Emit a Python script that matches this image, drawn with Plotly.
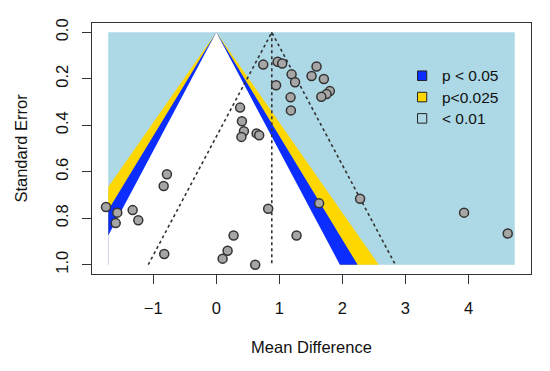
import plotly.graph_objects as go
from statistics import NormalDist

# ---- data ----
mean_diff = [0.744, 0.973, 1.045, 1.590, 1.194, 1.511, 1.249, 1.706, 0.948, 1.801,
             1.749, 1.666, 1.178, 1.183, 0.377, 0.406, 0.438, 0.398, 0.639, 0.680,
             -1.750, -1.571, -1.596, -1.327, -1.238, -0.783, -0.835, -0.826, 0.823, 1.631,
             0.274, 1.273, 0.179, 0.100, 0.617, 2.281, 3.930, 4.623]
std_err = [0.139, 0.127, 0.134, 0.147, 0.181, 0.188, 0.215, 0.201, 0.228, 0.253,
           0.266, 0.277, 0.280, 0.336, 0.324, 0.383, 0.426, 0.450, 0.435, 0.443,
           0.752, 0.776, 0.821, 0.765, 0.809, 0.611, 0.661, 0.954, 0.759, 0.736,
           0.874, 0.874, 0.940, 0.974, 1.000, 0.716, 0.776, 0.866]

p_levels = [0.05, 0.025, 0.01]
legend_labels = ["p < 0.05", "p<0.025", "< 0.01"]
band_colors = ["#0B2DFF", "#FFD700", "#ADD8E6"]
re_estimate = 0.88
shade_xlim = [-1.714, 4.734]
se_max = 1.0
x_ticks = [-1, 0, 1, 2, 3, 4]
y_ticks = [0.0, 0.2, 0.4, 0.6, 0.8, 1.0]
y_tick_text = ["0.0", "0.2", "0.4", "0.6", "0.8", "1.0"]

FONT = "Liberation Sans, Arial, sans-serif"
z_vals = [NormalDist().inv_cdf(1 - p / 2) for p in p_levels]


def funnel_polygon(z, xl, xr, smax):
    # triangle centred at 0 with half width z*se, clipped to [xl, xr]
    xs, ys = [0.0], [0.0]
    if z * smax > xr:
        xs += [xr, xr]; ys += [xr / z, smax]
    else:
        xs += [z * smax]; ys += [smax]
    if -z * smax < xl:
        xs += [xl, xl]; ys += [smax, -xl / z]
    else:
        xs += [-z * smax]; ys += [smax]
    xs.append(0.0); ys.append(0.0)
    return xs, ys


fig = go.Figure()
# outer region (p < 0.01)
fig.add_trace(go.Scatter(
    x=[shade_xlim[0], shade_xlim[1], shade_xlim[1], shade_xlim[0], shade_xlim[0]],
    y=[0, 0, se_max, se_max, 0], fill="toself", fillcolor=band_colors[2],
    line=dict(width=0), mode="lines", hoverinfo="skip", showlegend=False))
# bands, outermost first (white core extended a hair past se_max to hide edge seam)
for z, col, smax in [(z_vals[2], band_colors[1], se_max), (z_vals[1], band_colors[0], se_max),
                     (z_vals[0], "#FFFFFF", se_max * 1.004)]:
    xs, ys = funnel_polygon(z, shade_xlim[0], shade_xlim[1], smax)
    fig.add_trace(go.Scatter(x=xs, y=ys, fill="toself", fillcolor=col,
                             line=dict(width=0), mode="lines",
                             hoverinfo="skip", showlegend=False))

# random-effects pseudo-confidence funnel (dotted)
z95 = z_vals[0]
fig.add_trace(go.Scatter(
    x=[re_estimate - z95 * se_max, re_estimate, re_estimate + z95 * se_max],
    y=[se_max, 0, se_max], mode="lines",
    line=dict(color="#333333", width=1.6, dash="dot"), showlegend=False, hoverinfo="skip"))
fig.add_trace(go.Scatter(
    x=[re_estimate, re_estimate], y=[0, se_max], mode="lines",
    line=dict(color="#333333", width=1.6, dash="dot"), showlegend=False, hoverinfo="skip"))

# studies
fig.add_trace(go.Scatter(
    x=mean_diff, y=std_err, mode="markers",
    marker=dict(size=9, color="#A6A6A6", line=dict(color="#333333", width=1.5)),
    showlegend=False))

# legend (drawn manually)
leg_x, leg_y0, leg_dy = 0.752, 0.790, 0.085
hx, hy = 0.0105, 0.019
for i, (lab, col) in enumerate(zip(legend_labels, band_colors)):
    yy = leg_y0 - i * leg_dy
    fig.add_shape(type="rect", xref="paper", yref="paper",
                  x0=leg_x - hx, x1=leg_x + hx, y0=yy - hy, y1=yy + hy,
                  fillcolor=col, line=dict(color="#222222", width=1))
    fig.add_annotation(xref="paper", yref="paper", x=leg_x + 0.04, y=yy,
                       text=lab, showarrow=False, xanchor="left", yanchor="middle",
                       font=dict(family=FONT, size=15.5, color="#111111"))

fig.update_layout(
    width=550, height=371,
    margin=dict(l=84, r=27, t=15, b=105, autoexpand=False),
    paper_bgcolor="white", plot_bgcolor="white",
    font=dict(family=FONT, size=16, color="#111111"),
    showlegend=False,
)
fig.update_xaxes(
    range=[-1.972, 4.992], tickvals=x_ticks, ticks="outside", ticklen=9, tickwidth=1,
    tickcolor="#333333", showline=True, linecolor="#333333", linewidth=1, mirror=True,
    showgrid=False, zeroline=False, automargin=False, ticklabelstandoff=10,
    title=dict(text="Mean Difference", font=dict(size=16.5), standoff=25),
    tickfont=dict(size=16.5))
fig.update_yaxes(
    range=[1.04, -0.04], tickvals=y_ticks, ticktext=y_tick_text, tickangle=-90,
    ticks="outside", ticklen=9, tickwidth=1, tickcolor="#333333",
    showline=True, linecolor="#333333", linewidth=1, mirror=True,
    showgrid=False, zeroline=False, automargin=False, ticklabelstandoff=7,
    title=dict(text="Standard Error", font=dict(size=16.5), standoff=21),
    tickfont=dict(size=16.5))

fig.write_html("out.html")
